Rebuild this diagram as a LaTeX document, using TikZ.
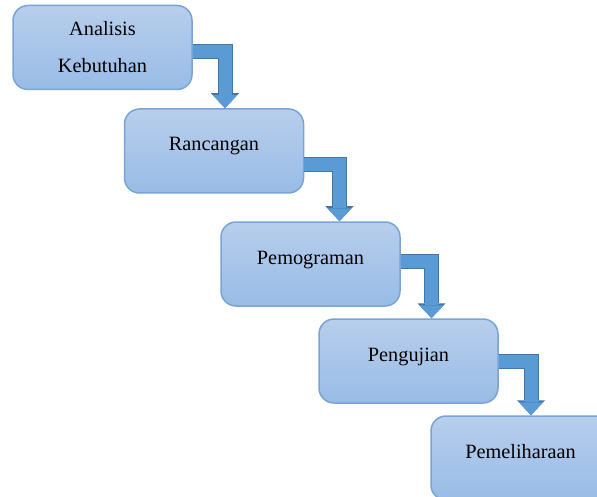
\documentclass[tikz,border=0pt]{standalone}
\usepackage{fontspec}
\setmainfont{Liberation Serif}
\usetikzlibrary{arrows.meta}
\definecolor{boxtop}{RGB}{184,206,236}
\definecolor{boxbottom}{RGB}{152,188,230}
\definecolor{boxline}{RGB}{122,163,214}
\definecolor{flowblue}{RGB}{91,155,213}
\definecolor{flowline}{RGB}{65,118,170}
\tikzset{
  stage/.style={draw=boxline, line width=0.75pt, rounded corners=7.5pt,
    top color=boxtop, bottom color=boxbottom, minimum width=89.5pt,
    minimum height=42pt, align=center, font=\fontsize{10.15}{18.5}\selectfont},
  oneline/.style={stage, text height=5pt, text depth=5pt},
  flow/.style={draw=flowblue, line width=6.5pt,
    -{Triangle[width=12pt,length=6.5pt,line width=0pt]},
    preaction={draw=flowline, line width=7.5pt,
      -{Triangle[width=14pt,length=7.5pt,line width=0pt]}}}
}
\begin{document}
\begin{tikzpicture}[x=0.5pt, y=-0.5pt]
\clip (0,0) rectangle (597,496);
\node[stage] (ana) at (102.5,47.5) {Analisis\\Kebutuhan};
\node[oneline] (ran) at (214,151) {Rancangan};
\node[oneline] (pem) at (310.5,264) {Pemograman};
\node[oneline] (pen) at (408.5,361) {Pengujian};
\node[oneline] (pel) at (520.5,458) {Pemeliharaan};
\draw[flow] ([yshift=-2pt]ana.east) -| ([xshift=5.5pt]ran.north);
\draw[flow] ([yshift=-7pt]ran.east) -| ([xshift=14.5pt]pem.north);
\draw[flow] ([yshift=1.5pt]pem.east) -| ([xshift=11.5pt]pen.north);
\draw[flow] (pen.east) -| ([xshift=5.25pt]pel.north);
\end{tikzpicture}
\end{document}
